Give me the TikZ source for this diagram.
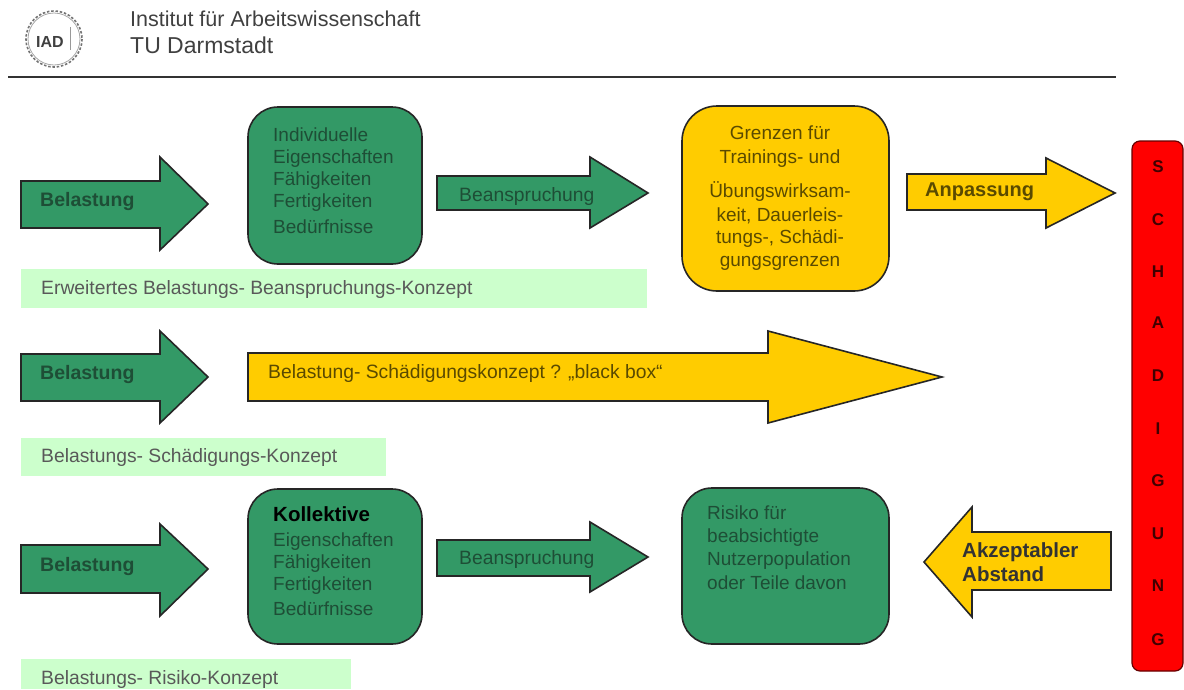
\documentclass[tikz,border=0pt]{standalone}
\usepackage{fontspec}
\setmainfont{Liberation Sans}
\definecolor{grn}{HTML}{339966}
\definecolor{yel}{HTML}{FFCC00}
\definecolor{pale}{HTML}{CCFFCC}
\definecolor{txtg}{HTML}{1E4E36}
\definecolor{txty}{HTML}{5A4A00}
\newcommand{\fs}[1]{\fontsize{#1}{#1}\selectfont}
\tikzset{
  x=1pt,y=-1pt,
  gfill/.style={fill=grn,draw=black!85,line width=1.6pt,line join=miter},
  yfill/.style={fill=yel,draw=black!85,line width=1.6pt,line join=miter},
  band/.style={fill=pale,draw=none},
  lab/.style={anchor=west,inner sep=0pt,align=left,font=\fs{19.3}},
  gtxt/.style={lab,text=txtg},
  ytxt/.style={lab,text=txty},
  captxt/.style={lab,text=black!65},
  headtxt/.style={anchor=west,inner sep=0pt,text=black!75},
  lines/.style={anchor=north west,inner sep=0pt,align=left,font=\fs{19},text=txtg},
  strong/.style={lab,font=\bfseries\fs{19.5},text=txtg},
  strongy/.style={lab,font=\bfseries\fs{20},text=txty},
}
\begin{document}
\begin{tikzpicture}
\useasboundingbox (0,0) rectangle (1184,689);
\fill[white] (0,0) rectangle (1184,689);

% header
\draw[black!55,line width=1.6pt,dash pattern=on 2.5pt off 1.8pt] (54,39) circle (28);
\draw[black!35,line width=0.8pt] (54,39) circle (26);
\node[inner sep=0pt,font=\bfseries\fs{16},text=black!75] (logo) at (50,42) {IAD};
\fill[black!40] (69.5,27) rectangle (70.5,50);
\node[headtxt,font=\fs{21.5}] (inst) at (130,19) {Institut für Arbeitswissenschaft};
\node[headtxt,font=\fs{23}] (tud) at (130,45) {TU Darmstadt};
\coordinate (ruleA) at (8,77);
\coordinate (ruleB) at (1116,77);
\draw[black!80,line width=1.5pt] (ruleA) -- (ruleB);

% pale bands
\fill[band] (21,269) rectangle (647,308);
\fill[band] (21,438) rectangle (386,476);
\fill[band] (21,659) rectangle (351,689);
\node[captxt] (c1) at (41,290) {Erweitertes Belastungs- Beanspruchungs-Konzept};
\node[captxt] (c2) at (41,458) {Belastungs- Schädigungs-Konzept};
\node[captxt] (c3) at (41,679) {Belastungs- Risiko-Konzept};

% row 1
\draw[gfill] (21,181) -- (160,181) -- (160,157) -- (208,204) -- (160,250) -- (160,228) -- (21,228) -- cycle;
\node[strong] (b1) at (40,201) {Belastung};
\draw[gfill,rounded corners=30] (248,107) rectangle (422,264);
\node[lines] (ind) at (273,128) {Individuelle\\[3pt]Eigenschaften\\[3pt]Fähigkeiten\\[3pt]Fertigkeiten\\[7pt]Bedürfnisse};
\draw[gfill] (437,176) -- (590,176) -- (590,157) -- (648,193) -- (590,228) -- (590,210) -- (437,210) -- cycle;
\node[gtxt] (bs1) at (459,197) {Beanspruchung};
\draw[yfill,rounded corners=35] (682,106) rectangle (889,291);
\node[anchor=north,inner sep=0pt,align=center,font=\fs{19},text=txty] (gr) at (780,126) {Grenzen für\\[5pt]Trainings- und\\[13pt]Übungswirksam-\\[5pt]keit, Dauerleis-\\[3pt]tungs-, Schädi-\\[4pt]gungsgrenzen};
\draw[yfill] (907,174) -- (1046,174) -- (1046,158) -- (1115,193) -- (1046,228) -- (1046,210) -- (907,210) -- cycle;
\node[strongy] (an) at (925,192) {Anpassung};

% row 2
\draw[gfill] (21,354) -- (160,354) -- (160,331) -- (208,377) -- (160,423) -- (160,401) -- (21,401) -- cycle;
\node[strong] (b2) at (40,374) {Belastung};
\draw[yfill] (248,353) -- (768,353) -- (768,331) -- (942,377) -- (768,423) -- (768,401) -- (248,401) -- cycle;
\node[ytxt] (bb) at (268,374) {Belastung- Schädigungskonzept ? „black box“};

% row 3
\draw[gfill] (21,545) -- (160,545) -- (160,524) -- (208,569) -- (160,616) -- (160,593) -- (21,593) -- cycle;
\node[strong] (b3) at (40,566) {Belastung};
\draw[gfill,rounded corners=30] (248,489) rectangle (422,644);
\node[lines] (kol) at (273,506) {\textbf{\textcolor{black}{\fs{20.5}Kollektive}}\\[6pt]Eigenschaften\\[3pt]Fähigkeiten\\[3pt]Fertigkeiten\\[6pt]Bedürfnisse};
\draw[gfill] (437,540) -- (590,540) -- (590,522) -- (648,557) -- (590,592) -- (590,576) -- (437,576) -- cycle;
\node[gtxt] (bs3) at (459,560) {Beanspruchung};
\draw[gfill,rounded corners=30] (682,488) rectangle (889,644);
\node[lines] (ri) at (707,506) {Risiko für\\[4pt]beabsichtigte\\[4pt]Nutzerpopulation\\[5pt]oder Teile davon};
\draw[yfill] (1111,532) -- (972,532) -- (972,507) -- (924,562) -- (972,617) -- (972,590) -- (1111,590) -- cycle;
\node[lab,font=\bfseries\fs{20.5},text=black!80] (ak) at (962,562) {Akzeptabler\\[3pt]Abstand};

% red bar
\draw[fill=red,draw=black!60!red,line width=1.2pt,rounded corners=8] (1132,141) rectangle (1183,671);
\foreach \ch/\yy in {S/167,C/220,H/272,A/323,D/376,I/429,G/481,U/534,N/586,G/640}{
  \node[inner sep=0pt,font=\bfseries\fs{17},text=black!75!red] at (1158,\yy) {\ch};
}
\end{tikzpicture}
\end{document}
